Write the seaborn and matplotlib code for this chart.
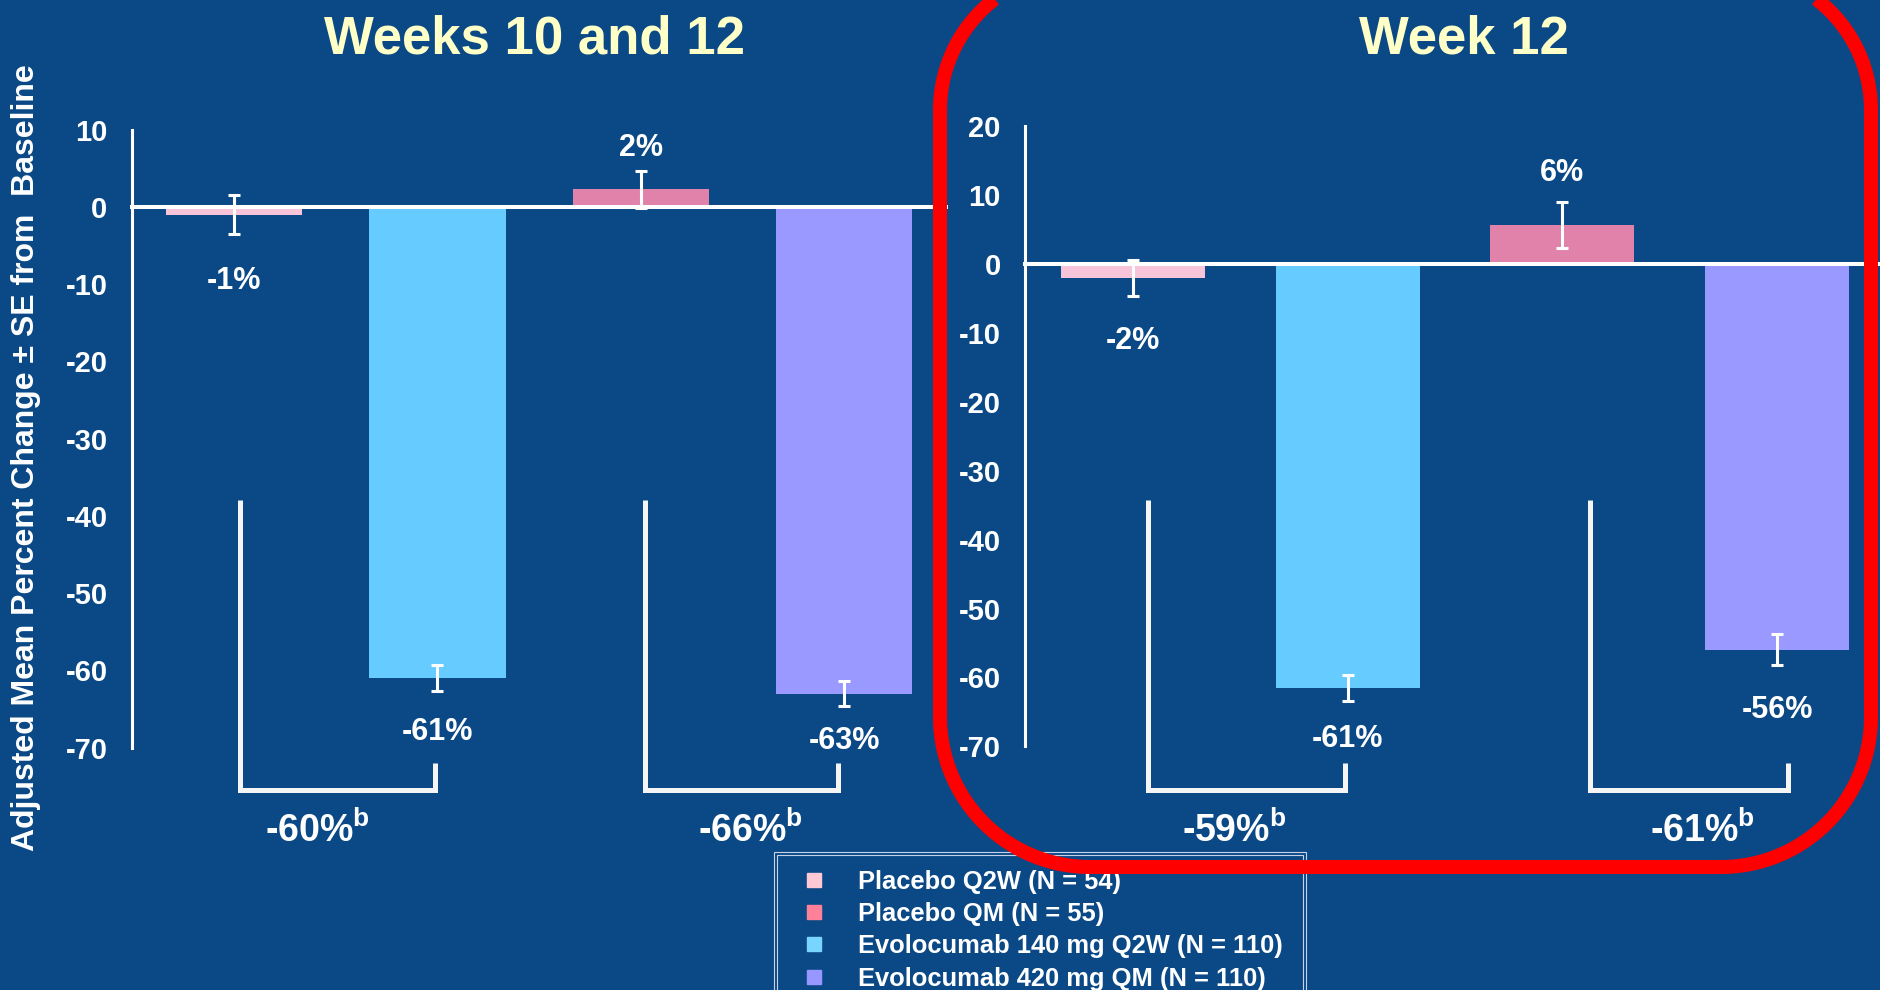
import matplotlib
matplotlib.use('Agg')
import numpy as np
import matplotlib.pyplot as plt
import matplotlib.transforms as mtransforms
from matplotlib.patches import Polygon, Rectangle
from matplotlib.lines import Line2D
from matplotlib.font_manager import FontProperties, fontManager
import pandas as pd
import seaborn as sns

# ---------------- data ----------------
groups = ["Placebo Q2W", "Evolocumab 140 mg Q2W", "Placebo QM", "Evolocumab 420 mg QM"]

wk10_12_mean = [-1.0, -61.0, 2.3, -63.0]
wk10_12_se = [2.5, 1.7, 2.4, 1.6]
wk10_12_labels = ["-1%", "-61%", "2%", "-63%"]
wk10_12_diff = ["-60%", "-66%"]

wk12_mean = [-2.0, -61.5, 5.6, -56.0]
wk12_se = [2.6, 1.85, 3.35, 2.25]
wk12_labels = ["-2%", "-61%", "6%", "-56%"]
wk12_diff = ["-59%", "-61%"]

legend_labels = ["Placebo Q2W (N = 54)", "Placebo QM (N = 55)",
                 "Evolocumab 140 mg Q2W (N = 110)", "Evolocumab 420 mg QM (N = 110)"]

# ---------------- style ----------------
BG = '#0A4986'
bar_colors = ['#F8C4DA', '#66CCFF', '#E082A9', '#9999FF']
legend_colors = ['#FFC8D5', '#FF8099', '#77D5FF', '#9797FF']
TITLE_COLOR = '#FFFFC8'

sns.set_theme(style='white')
names = {f.name for f in fontManager.ttflist}
NARROW = 'Liberation Sans Narrow' if 'Liberation Sans Narrow' in names else 'Liberation Sans'
plt.rcParams['font.family'] = [NARROW, 'Liberation Sans', 'DejaVu Sans']
plt.rcParams['font.weight'] = 'bold'
plt.rcParams['axes.unicode_minus'] = False
plt.rcParams['mathtext.fontset'] = 'custom'

W, H = 1881, 990
fig = plt.figure(figsize=(W / 100, H / 100), dpi=100, facecolor=BG)


# axes placed in pixels (left, top, right, bottom)
def px_axes(l, t, r, b):
    return fig.add_axes([l / W, 1 - b / H, (r - l) / W, (b - t) / H])


ax1 = px_axes(132.3, 129.6, 945.9, 747.6)
ax2 = px_axes(1025.4, 126.0, 1884.6, 746.4)

narrow_bold = dict(family=[NARROW, 'Liberation Sans'], weight='bold', color='white')


def draw_panel(ax, means, ses, labels, label_off, diffs, ymax, bracket_x, diff_x, title, title_x):
    df = pd.DataFrame({'group': groups, 'mean': means})
    sns.barplot(data=df, x='group', y='mean', hue='group', order=groups, hue_order=groups,
                palette=bar_colors, width=0.67, saturation=1, linewidth=0,
                errorbar=None, legend=False, ax=ax)
    ax.errorbar(range(len(groups)), means, yerr=ses, fmt='none', ecolor='white',
                elinewidth=2.2, capsize=4.3, capthick=2.2, zorder=5)

    ax.set_facecolor('none')
    ax.set_xlim(-0.5, 3.5)
    ax.set_ylim(-70, ymax)
    ax.set_yticks(range(-70, ymax + 1, 10))
    ax.set_xticks([0.5, 1.5, 2.5])
    ax.set_xticklabels([])
    ax.set_xlabel('')
    ax.set_ylabel('')
    for s in ['top', 'right']:
        ax.spines[s].set_visible(False)
    ax.spines['bottom'].set_position(('data', 0))
    ax.spines['bottom'].set_color('white')
    ax.spines['bottom'].set_linewidth(2.9)
    ax.spines['bottom'].set_zorder(4)
    ax.spines['left'].set_color('white')
    ax.spines['left'].set_linewidth(2.2)
    ax.tick_params(axis='y', direction='out', length=5.8, width=2.2, colors='white',
                   pad=12, labelsize=21)
    ax.tick_params(axis='x', direction='out', length=4.5, width=2.2, colors='white')
    for t in ax.get_yticklabels():
        t.set_family([NARROW, 'Liberation Sans'])
        t.set_weight('bold')

    # value labels above / below each bar
    for i, (m, lbl, off) in enumerate(zip(means, labels, label_off)):
        ax.annotate(lbl, xy=(i, m), xytext=(0, off if m > 0 else -off),
                    textcoords='offset points', ha='center', va='center',
                    fontsize=22, **narrow_bold)

    # brackets showing treatment difference
    trans = mtransforms.blended_transform_factory(ax.transData, fig.transFigure)
    y_top, y_bot, y_short = 1 - 500 / H, 1 - 790 / H, 1 - 763 / H
    for (x0, x1), d, dx in zip(bracket_x, diffs, diff_x):
        ax.plot([x0, x0, x1, x1], [y_top, y_bot, y_bot, y_short], color='#F5F5F5',
                lw=3.6, transform=trans, clip_on=False,
                solid_joinstyle='miter', solid_capstyle='butt')
        ax.text(dx, 1 - 831 / H, d + r'$^{\mathregular{b}}$', transform=trans,
                ha='center', va='center', fontsize=27, **narrow_bold)

    fig.text(title_x / W, 1 - 39 / H, title, ha='center', va='center', fontsize=38,
             family=[NARROW, 'Liberation Sans'], weight='bold', color=TITLE_COLOR)


draw_panel(ax1, wk10_12_mean, wk10_12_se, wk10_12_labels, [47.5, 39, 29.5, 34.5], wk10_12_diff, 10,
           [(0.03, 0.99), (2.02, 2.97)], [0.41, 2.54], 'Weeks 10 and 12', 534)
draw_panel(ax2, wk12_mean, wk12_se, wk12_labels, [45.5, 37, 37.5, 43], wk12_diff, 20,
           [(0.07, 0.99), (2.13, 3.05)], [0.47, 2.65], 'Week 12', 1464)

# shared y label
fig.text(26 / W, 1 - 458 / H, 'Adjusted Mean Percent Change \u00b1 SE from  Baseline',
         rotation=90, ha='center', va='center', fontsize=23,
         family=[NARROW, 'Liberation Sans'], weight='bold', color='white')

# legend with double frame, bottom runs off the slide
px = mtransforms.IdentityTransform()
fig.add_artist(Rectangle((774, -20), 532, 158, transform=px, fill=False,
                         edgecolor='#C8D2E6', lw=0.8))
fig.add_artist(Rectangle((777, -20), 526, 155, transform=px, fill=False,
                         edgecolor='#C8D2E6', lw=0.8))
handles = [Line2D([], [], marker='s', linestyle='none', markersize=10,
                  markerfacecolor=c, markeredgecolor=c) for c in legend_colors]
fig.legend(handles, legend_labels, loc='upper left',
           bbox_to_anchor=(801 / W, 1 - 869.5 / H), bbox_transform=fig.transFigure,
           frameon=False, borderpad=0, borderaxespad=0, handlelength=1.0,
           handletextpad=1.23, labelspacing=0.33, labelcolor='white',
           prop=FontProperties(family='Liberation Sans', weight='bold', size=18.4))

# red highlight around the Week 12 panel (pixel coords, top runs off the slide)
left, right, bottom, top = 940, 1871, 123, 1020
r_top, r_bot = 140, 150
corners = [((left + r_top, top - r_top), r_top, 90, 180),
           ((left + r_bot, bottom + r_bot), r_bot, 180, 270),
           ((right - r_bot, bottom + r_bot), r_bot, 270, 360),
           ((right - r_top, top - r_top), r_top, 0, 90)]
outline = []
for (cx, cy), rad, a0, a1 in corners:
    ang = np.radians(np.linspace(a0, a1, 60))
    outline.append(np.column_stack([cx + rad * np.cos(ang), cy + rad * np.sin(ang)]))
fig.add_artist(Polygon(np.vstack(outline), closed=True, transform=px, fill=False,
                       edgecolor='#FF0000', linewidth=10.1, joinstyle='round', zorder=10))

fig.savefig('out.png', dpi=100, facecolor=BG)
